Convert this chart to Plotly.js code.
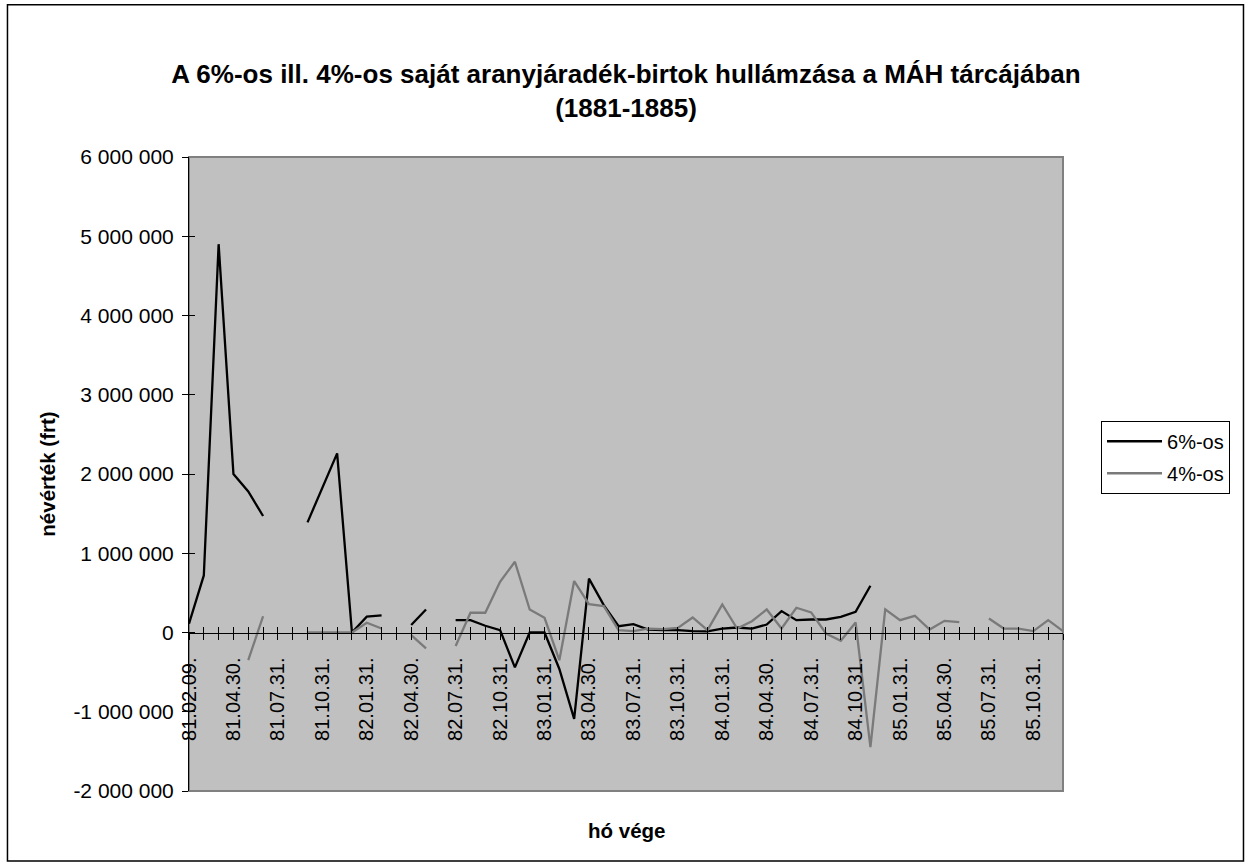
<!DOCTYPE html>
<html>
<head>
<meta charset="utf-8">
<script src="https://cdn.plot.ly/plotly-3.0.1.min.js"></script>
<style>
html,body{margin:0;padding:0;background:#ffffff;}
#chart{width:1251px;height:866px;}
</style>
</head>
<body>
<div id="chart"></div>
<script>
// ---- data ----
const categories = [
  '81.02.09.','81.02.28.','81.03.31.','81.04.30.','81.05.31.','81.06.30.',
  '81.07.31.','81.08.31.','81.09.30.','81.10.31.','81.11.30.','81.12.31.',
  '82.01.31.','82.02.28.','82.03.31.','82.04.30.','82.05.31.','82.06.30.',
  '82.07.31.','82.08.31.','82.09.30.','82.10.31.','82.11.30.','82.12.31.',
  '83.01.31.','83.02.28.','83.03.31.','83.04.30.','83.05.31.','83.06.30.',
  '83.07.31.','83.08.31.','83.09.30.','83.10.31.','83.11.30.','83.12.31.',
  '84.01.31.','84.02.29.','84.03.31.','84.04.30.','84.05.31.','84.06.30.',
  '84.07.31.','84.08.31.','84.09.30.','84.10.31.','84.11.30.','84.12.31.',
  '85.01.31.','85.02.28.','85.03.31.','85.04.30.','85.05.31.','85.06.30.',
  '85.07.31.','85.08.31.','85.09.30.','85.10.31.','85.11.30.','85.12.31.'
];

const labeledCategories = [
  '81.02.09.','81.04.30.','81.07.31.','81.10.31.','82.01.31.','82.04.30.',
  '82.07.31.','82.10.31.','83.01.31.','83.04.30.','83.07.31.','83.10.31.',
  '84.01.31.','84.04.30.','84.07.31.','84.10.31.','85.01.31.','85.04.30.',
  '85.07.31.','85.10.31.'
];

const series6 = [
  110000, 720000, 4900000, 2000000, 1780000, 1470000,
  null, null, 1390000, 1820000, 2260000, 0,
  200000, 215000, null, 95000, 290000, null,
  155000, 155000, 85000, 30000, -440000, 0,
  0, -460000, -1090000, 680000, 345000, 80000,
  105000, 38000, 30000, 30000, 17000, 13000,
  50000, 63000, 50000, 100000, 270000, 156000,
  164000, 164000, 198000, 261000, 590000, null,
  null, null, null, null, null, null,
  null, null, null, null, null, null
];

const series4 = [
  null, null, null, null, -350000, 205000,
  null, null, 0, 0, 0, 0,
  123000, 50000, null, -33000, -200000, null,
  -170000, 249000, 249000, 640000, 893000, 290000,
  185000, -350000, 649000, 358000, 333000, 30000,
  17000, 50000, 42000, 59000, 190000, 30000,
  354000, 50000, 143000, 291000, 50000, 312000,
  253000, -13000, -105000, 126000, -1445000, 291000,
  156000, 211000, 38000, 147000, 131000, null,
  177000, 50000, 50000, 17000, 156000, 17000
];

const seriesNames = ['6%-os', '4%-os'];
const yTickVals = [-2000000, -1000000, 0, 1000000, 2000000, 3000000, 4000000, 5000000, 6000000];
const yTickText = ['-2 000 000', '-1 000 000', '0', '1 000 000', '2 000 000', '3 000 000', '4 000 000', '5 000 000', '6 000 000'];

const titleText = 'A 6%-os ill. 4%-os saját aranyjáradék-birtok hullámzása a MÁH tárcájában<br>(1881-1885)';
const yTitle = 'névérték (frt)';
const xTitle = 'hó vége';

// ---- chart ----
const FONT = 'Liberation Sans, Arial, Helvetica, sans-serif';
const catIndex = categories.map((c, i) => i);
const tickText = categories.map(c => labeledCategories.includes(c) ? c : '');

const traces = [
  {
    x: categories, y: series6, name: seriesNames[0], type: 'scatter', mode: 'lines',
    line: {color: '#000000', width: 2.3}, connectgaps: false,
    legendgroup: 'a', xaxis: 'x', yaxis: 'y'
  },
  {
    x: categories, y: series4, name: seriesNames[1], type: 'scatter', mode: 'lines',
    line: {color: '#7a7a7a', width: 2.3}, connectgaps: false,
    legendgroup: 'b', xaxis: 'x', yaxis: 'y'
  }
];

const layout = {
  width: 1251, height: 866,
  margin: {l: 189, r: 188, t: 157, b: 75, pad: 0},
  paper_bgcolor: '#ffffff',
  plot_bgcolor: '#c0c0c0',
  font: {family: FONT, size: 20, color: '#000000'},
  title: {
    text: '<b>' + titleText + '</b>',
    font: {family: FONT, size: 26, color: '#000000'},
    x: 0.5, xref: 'paper', xanchor: 'center',
    y: 1 - 83 / 866, yref: 'container', yanchor: 'top'
  },
  showlegend: true,
  legend: {
    x: 1.0435, y: 0.584, xanchor: 'left', yanchor: 'top',
    bgcolor: '#ffffff', bordercolor: '#000000', borderwidth: 1,
    font: {family: FONT, size: 20, color: '#000000'},
    traceorder: 'grouped', tracegroupgap: 3, itemwidth: 55
  },
  xaxis: {
    type: 'category',
    range: [0, categories.length - 1],
    anchor: 'free', position: 0.25,
    showline: true, linecolor: '#000000', linewidth: 1,
    showgrid: false, zeroline: false,
    ticks: 'outside', ticklen: 6, tickwidth: 1, tickcolor: '#000000',
    tickmode: 'array', tickvals: categories, ticktext: tickText,
    tickangle: -90,
    tickfont: {family: FONT, size: 20, color: '#000000'},
    ticklabelstandoff: 10,
    fixedrange: true
  },
  xaxis2: {
    type: 'linear', overlaying: 'x',
    range: [0, categories.length - 1],
    anchor: 'free', position: 0.25,
    showline: false, showgrid: false, zeroline: false,
    ticks: 'inside', ticklen: 6, tickwidth: 1, tickcolor: '#000000',
    tickmode: 'array', tickvals: catIndex, showticklabels: false
  },
  yaxis: {
    range: [yTickVals[0], yTickVals[yTickVals.length - 1]],
    showline: true, linecolor: '#000000', linewidth: 1,
    showgrid: false, zeroline: false,
    ticks: 'outside', ticklen: 6, tickwidth: 1, tickcolor: '#000000',
    tickmode: 'array', tickvals: yTickVals, ticktext: yTickText,
    tickfont: {family: FONT, size: 21, color: '#000000'},
    ticklabelstandoff: 4,
    title: {text: '<b>' + yTitle + '</b>', font: {family: FONT, size: 20.5, color: '#000000'}, standoff: 12}
  },
  yaxis2: {
    overlaying: 'y', anchor: 'x', side: 'left',
    range: [yTickVals[0], yTickVals[yTickVals.length - 1]],
    showline: false, showgrid: false, zeroline: false,
    ticks: 'inside', ticklen: 6, tickwidth: 1, tickcolor: '#000000',
    tickmode: 'array', tickvals: yTickVals, showticklabels: false
  },
  annotations: [
    {
      text: '<b>' + xTitle + '</b>', xref: 'paper', yref: 'paper',
      x: 0.5, y: -0.062, xanchor: 'center', yanchor: 'middle',
      showarrow: false, font: {family: FONT, size: 20.5, color: '#000000'}
    }
  ],
  shapes: [
    {type: 'rect', xref: 'paper', yref: 'paper', x0: 0, x1: 1, y0: 0, y1: 1,
     line: {color: '#808080', width: 2}, fillcolor: 'rgba(0,0,0,0)', layer: 'below'},
    {type: 'rect', xref: 'paper', yref: 'paper', x0: -0.2077, x1: 1.2065, y0: -0.1104, y1: 1.2402,
     line: {color: '#000000', width: 1.5}, fillcolor: 'rgba(0,0,0,0)', layer: 'below'}
  ]
};

// dummy trace so xaxis2 / yaxis2 are drawn
traces.push({x: [], y: [], xaxis: 'x2', yaxis: 'y2', showlegend: false, hoverinfo: 'skip', type: 'scatter', mode: 'lines'});

Plotly.newPlot('chart', traces, layout, {displayModeBar: false, staticPlot: true});
</script>
</body>
</html>
